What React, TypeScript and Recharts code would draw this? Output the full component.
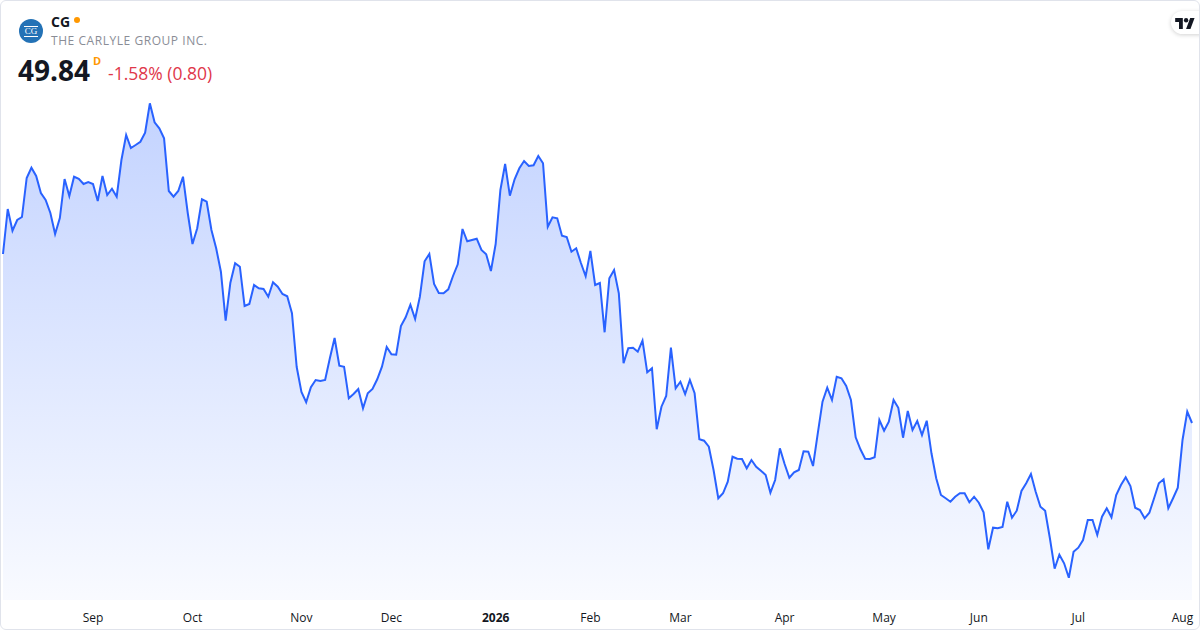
import { AreaChart, Area, XAxis, YAxis } from "recharts";

// daily closes, Aug 2025 -> Aug 2026
const prices = [
  61.67, 64.82, 63.3, 64.05, 64.26, 66.99, 67.71, 67.13, 65.94, 65.45,
  64.54, 63.07, 64.19, 66.92, 65.73, 67.08, 66.94, 66.57, 66.71, 66.57,
  65.38, 67.13, 65.8, 66.24, 65.68, 68.25, 70.0, 69.09, 69.3, 69.53,
  70.16, 72.22, 70.89, 70.47, 69.77, 66.08, 65.68, 66.08, 67.08, 64.54,
  62.37, 63.47, 65.5, 65.33, 63.35, 62.07, 60.43, 57.0, 59.66, 61.02,
  60.78, 58.03, 58.17, 59.5, 59.27, 59.22, 58.68, 59.69, 59.38, 58.87,
  58.71, 57.52, 53.76, 52.01, 51.29, 52.34, 52.85, 52.78, 52.85, 54.37,
  55.79, 53.85, 53.78, 51.57, 51.87, 52.22, 50.87, 51.92, 52.22, 52.9,
  53.78, 55.16, 54.65, 54.62, 56.63, 57.24, 58.12, 57.12, 58.68, 61.16,
  61.67, 59.57, 58.94, 58.92, 59.2, 60.13, 60.95, 63.42, 62.56, 62.65,
  62.74, 61.95, 61.65, 60.48, 62.37, 66.15, 67.97, 65.75, 66.9, 67.67,
  68.18, 67.83, 67.88, 68.53, 68.02, 63.58, 64.24, 64.17, 62.95, 62.86,
  61.83, 62.07, 61.04, 60.11, 61.88, 59.5, 59.64, 56.19, 59.97, 60.55,
  58.92, 54.02, 55.07, 55.11, 54.83, 55.6, 53.39, 53.67, 49.4, 50.98,
  51.73, 55.11, 52.27, 52.73, 51.87, 52.85, 51.92, 48.7, 48.6, 48.18,
  46.55, 44.57, 44.92, 45.73, 47.48, 47.34, 47.32, 46.67, 47.25, 46.78,
  46.5, 46.2, 44.96, 45.85, 48.07, 46.97, 46.01, 46.39, 46.55, 47.86,
  47.83, 46.83, 49.12, 51.33, 52.31, 51.45, 53.08, 52.97, 52.43, 51.45,
  48.84, 48.0, 47.34, 47.32, 47.44, 50.05, 49.3, 49.93, 51.45, 50.9,
  48.81, 50.68, 49.35, 49.98, 49.0, 50.0, 47.72, 45.97, 44.8, 44.57,
  44.33, 44.68, 44.92, 44.92, 44.29, 44.68, 44.26, 43.59, 41.0, 42.51,
  42.47, 42.56, 44.33, 43.21, 43.7, 45.08, 45.62, 46.27, 45.03, 43.98,
  43.7, 41.77, 39.64, 40.62, 40.02, 39.01, 40.83, 41.11, 41.65, 43.05,
  43.05, 42.0, 43.28, 43.87, 43.24, 44.8, 45.5, 46.04, 45.43, 43.91,
  43.75, 43.17, 43.56, 44.57, 45.62, 45.9, 43.87, 44.57, 45.31, 48.65,
  50.64, 49.84,
];

// first trading day of each month (index into prices) and its label
const monthTickIdx = [19, 40, 63, 82, 104, 124, 143, 165, 186, 206, 227, 249];
const monthLabels = ["Sep", "Oct", "Nov", "Dec", "2026", "Feb", "Mar", "Apr", "May", "Jun", "Jul", "Aug"];

const data = prices.map((p, i) => ({ i, price: p }));

const FONT = '"Open Sans", "Noto Sans", sans-serif';

function MonthTick(props: any) {
  const { x, y, payload } = props;
  const k = monthTickIdx.indexOf(payload.value);
  const label = monthLabels[k] ?? "";
  return (
    <text
      x={x}
      y={y + 1}
      dy="0.71em"
      textAnchor="middle"
      fontFamily={FONT}
      fontSize={12}
      fontWeight={label === "2026" ? 700 : 400}
      fill="#131722"
    >
      {label}
    </text>
  );
}

export default function App() {
  return (
    <div
      style={{
        position: "absolute",
        left: 0,
        top: 0,
        width: 1200,
        height: 630,
        background: "#fff",
        overflow: "hidden",
        fontFamily: FONT,
      }}
    >
      <AreaChart width={1200} height={630} data={data} margin={{ top: 90, right: 8, left: 3, bottom: 0 }}>
        <defs>
          <linearGradient id="cgFill" x1="0" y1="0" x2="0" y2="1">
            <stop offset="0%" stopColor="#2962ff" stopOpacity={0.28} />
            <stop offset="100%" stopColor="#2962ff" stopOpacity={0.03} />
          </linearGradient>
        </defs>
        <XAxis
          dataKey="i"
          type="number"
          domain={[0, prices.length - 1]}
          ticks={monthTickIdx}
          interval={0}
          axisLine={false}
          tickLine={false}
          tickSize={6}
          tickMargin={6}
          height={30}
          tick={<MonthTick />}
        />
        <YAxis hide domain={[37.45, 73.15]} />
        <Area
          type="linear"
          dataKey="price"
          stroke="#2962ff"
          strokeWidth={2}
          fill="url(#cgFill)"
          fillOpacity={1}
          dot={false}
          activeDot={false}
          isAnimationActive={false}
        />
      </AreaChart>

      {/* header */}
      <div
        style={{
          position: "absolute",
          left: 19,
          top: 19,
          width: 24,
          height: 24,
          borderRadius: "50%",
          background: "#2372b6",
          display: "flex",
          alignItems: "center",
          justifyContent: "center",
        }}
      >
        <span
          style={{
            fontFamily: '"Liberation Serif", serif',
            fontSize: 9,
            lineHeight: "9px",
            color: "#fff",
            borderTop: "1px solid #fff",
            borderBottom: "1px solid #fff",
            padding: "0 1px",
          }}
        >
          CG
        </span>
      </div>
      <div style={{ position: "absolute", left: 51, top: 12, fontSize: 14, fontWeight: 700, color: "#131722" }}>CG</div>
      <div
        style={{
          position: "absolute",
          left: 74,
          top: 17,
          width: 6,
          height: 6,
          borderRadius: "50%",
          background: "#ff9800",
        }}
      />
      <div style={{ position: "absolute", left: 51, top: 32, fontSize: 12, color: "#8a8d96", letterSpacing: 0.55 }}>
        THE CARLYLE GROUP INC.
      </div>
      <div style={{ position: "absolute", left: 18, top: 51, fontSize: 28, fontWeight: 700, color: "#131722" }}>
        49.84
      </div>
      <div style={{ position: "absolute", left: 93, top: 53, fontSize: 11, fontWeight: 700, color: "#ff9800" }}>D</div>
      <div style={{ position: "absolute", left: 108, top: 61, fontSize: 17.5, color: "#e0374a" }}>-1.58% (0.80)</div>

      {/* TradingView badge */}
      <div
        style={{
          position: "absolute",
          left: 1171,
          top: 11,
          width: 40,
          height: 23,
          borderRadius: 12,
          background: "#fff",
          boxShadow: "0 1px 4px rgba(0,0,0,0.18)",
        }}
      >
        <svg width={20} height={12} viewBox="0 0 36 22" style={{ position: "absolute", left: 4, top: 6 }}>
          <path d="M14 22H7V9H0V2h14v20z" fill="#131722" />
          <circle cx={20} cy={6} r={4} fill="#131722" />
          <path d="M28 22h-8l7.5-20h8L28 22z" fill="#131722" />
        </svg>
      </div>

      {/* card border */}
      <div
        style={{
          position: "absolute",
          inset: 0,
          border: "1px solid #e0e3eb",
          borderRadius: 6,
          pointerEvents: "none",
        }}
      />
    </div>
  );
}
